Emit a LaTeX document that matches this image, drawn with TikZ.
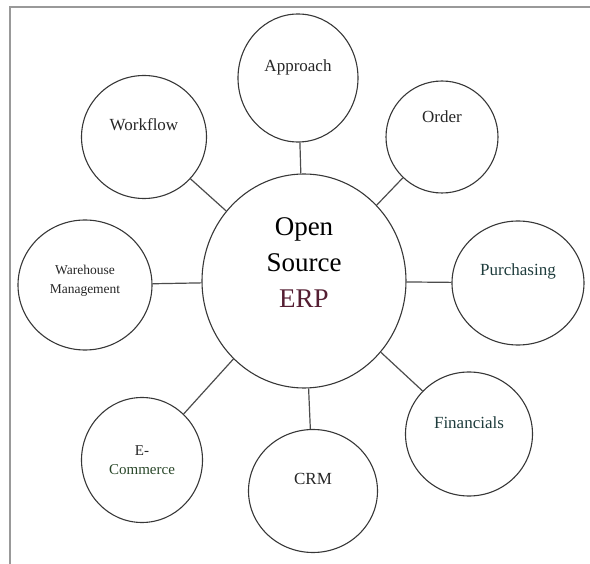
\documentclass[tikz,border=0pt]{standalone}
\usepackage{fontspec}
\setmainfont{Liberation Serif}
\usepackage{tikz}
\usetikzlibrary{shapes.geometric}

\definecolor{rimgray}{RGB}{55,55,55}
\definecolor{erpred}{RGB}{85,30,50}
\definecolor{tealink}{RGB}{30,60,60}
\definecolor{greenink}{RGB}{40,70,40}

\begin{document}
\begin{tikzpicture}[x=1pt,y=-1pt,
  bubble/.style={ellipse,draw=rimgray,line width=1.1pt,inner sep=0pt},
  every label/.style={font=\fontsize{17}{20}\selectfont,text=black!85,align=center},
  link/.style={draw=black!70,line width=1.2pt}]

  \useasboundingbox (0,0) rectangle (590,564);
  \draw[black!40,line width=2pt] (590,7) -- (10,7) -- (10,564);

  % hub
  \node[bubble,minimum width=204pt,minimum height=214pt,
    label={[yshift=18pt,font=\fontsize{27}{36}\selectfont,text=black]center:Open\\Source\\\textcolor{erpred}{ERP}}] (erp) at (304,281) {};

  % modules
  \node[bubble,minimum width=120pt,minimum height=128pt,label={[yshift=11pt]center:Approach}] (appr) at (298,78) {};
  \node[bubble,minimum width=112pt,minimum height=112pt,label={[yshift=20pt]center:Order}] (order) at (442,137) {};
  \node[bubble,minimum width=125pt,minimum height=123pt,label={[yshift=12pt]center:Workflow}] (wflow) at (144,137) {};
  \node[bubble,minimum width=134pt,minimum height=130pt,
    label={[yshift=4pt,font=\fontsize{13.5}{19}\selectfont]center:Warehouse\\Management}] (whouse) at (85,285) {};
  \node[bubble,minimum width=132pt,minimum height=124pt,label={[yshift=12pt,text=tealink]center:Purchasing}] (purch) at (518,283) {};
  \node[bubble,minimum width=127pt,minimum height=124pt,label={[yshift=11pt,text=tealink]center:Financials}] (fin) at (469,434) {};
  \node[bubble,minimum width=129pt,minimum height=123pt,label={[yshift=12pt]center:CRM}] (crm) at (313,491) {};
  \node[bubble,minimum width=121pt,minimum height=125pt,
    label={[font=\fontsize{15}{19}\selectfont]center:E-\\\textcolor{greenink}{Commerce}}] (ecom) at (142,460) {};

  \draw[link] (erp) -- (appr);
  \draw[link] (erp) -- (order);
  \draw[link] (erp) -- (wflow);
  \draw[link] (erp) -- (whouse);
  \draw[link] (erp) -- (purch);
  \draw[link] (erp) -- (fin);
  \draw[link] (erp) -- (crm);
  \draw[link] (erp) -- (ecom);

\end{tikzpicture}
\end{document}
